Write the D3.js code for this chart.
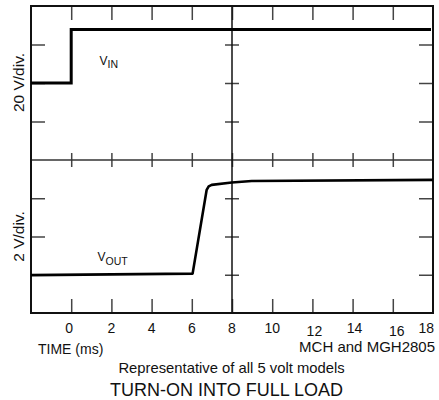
<!DOCTYPE html>
<html><head><meta charset="utf-8">
<script src="https://cdn.jsdelivr.net/npm/d3@7"></script>
<style>
html,body{margin:0;padding:0;background:#fff;}
svg{display:block;font-family:"Liberation Sans",Arial,sans-serif;}
</style></head>
<body><svg id="c" width="439" height="400"></svg>
<script>
// ---- data ----
const timeTickValues = [0, 2, 4, 6, 8, 10, 12, 14, 16, 18];
const timeTickLabels = ["0", "2", "4", "6", "8", "10", "12", "14", "16", "18"];
const vinTime = [-2, 0, 0, 17.9];
const vinVolts = [40, 40, 67.8, 67.8];        // 20 V/div
const voutTime = [-2, 6.04, 6.74, 6.84, 6.99, 7.99, 8.98, 18];
const voutVolts = [1.98, 2.06, 6.44, 6.62, 6.70, 6.82, 6.90, 6.96]; // 2 V/div
const divTicksTop = [20, 40, 60];
const divTicksBot = [2, 4, 6];

const svg = d3.select("#c");
const L = 31, R = 433, T = 6, M = 160, B = 313;
const x = d3.scaleLinear().domain([-2, 18]).range([L, R]);
const yTop = d3.scaleLinear().domain([0, 80]).range([M, T]);
const yBot = d3.scaleLinear().domain([0, 8]).range([B, M]);
const innerX = timeTickValues.filter(v => v < 18);
const tickCol = "#444";

function styleAxis(g){ g.select(".domain").remove(); g.selectAll("text").remove();
  g.selectAll("line").attr("stroke", tickCol).attr("stroke-width", 1.5); }

// x ticks: top edge, middle line (both sides), bottom edge
svg.append("g").attr("transform", `translate(0,${T})`)
  .call(d3.axisTop(x).tickValues(innerX).tickSize(-14)).call(styleAxis);
svg.append("g").attr("transform", `translate(0,${M - 7})`)
  .call(d3.axisBottom(x).tickValues(innerX).tickSize(14)).call(styleAxis);
svg.append("g").attr("transform", `translate(0,${B})`)
  .call(d3.axisBottom(x).tickValues(innerX).tickSize(-14)).call(styleAxis);

// y ticks: left edge, center line, right edge
[[yTop, divTicksTop], [yBot, divTicksBot]].forEach(([ys, tv]) => {
  svg.append("g").attr("transform", `translate(${L},0)`)
    .call(d3.axisLeft(ys).tickValues(tv).tickSize(-14)).call(styleAxis);
  svg.append("g").attr("transform", `translate(${x(8) - 7},0)`)
    .call(d3.axisRight(ys).tickValues(tv).tickSize(14)).call(styleAxis);
  svg.append("g").attr("transform", `translate(${R},0)`)
    .call(d3.axisRight(ys).tickValues(tv).tickSize(-14)).call(styleAxis);
});

// grid center lines
svg.append("line").attr("x1", L).attr("x2", R).attr("y1", M).attr("y2", M)
  .attr("stroke", "#333").attr("stroke-width", 1.5);
svg.append("line").attr("x1", x(8)).attr("x2", x(8)).attr("y1", T).attr("y2", B)
  .attr("stroke", "#111").attr("stroke-width", 1.5);

// frame
svg.append("rect").attr("x", L).attr("y", T).attr("width", R - L).attr("height", B - T)
  .attr("fill", "none").attr("stroke", "#111").attr("stroke-width", 2);

// traces
const vinLine = d3.line().x((d, i) => x(vinTime[i])).y(d => yTop(d));
svg.append("path").attr("d", vinLine(vinVolts)).attr("fill", "none")
  .attr("stroke", "#000").attr("stroke-width", 3).attr("stroke-linejoin", "miter");
const voutLine = d3.line().x((d, i) => x(voutTime[i])).y(d => yBot(d));
svg.append("path").attr("d", voutLine(voutVolts)).attr("fill", "none")
  .attr("stroke", "#000").attr("stroke-width", 2.6).attr("stroke-linejoin", "round");

// trace labels
function subLabel(px, py, main, sub){
  const t = svg.append("text").attr("x", px).attr("y", py).attr("font-size", 12).attr("fill", "#111");
  t.append("tspan").text(main);
  t.append("tspan").attr("dy", 3.5).attr("font-size", 10.5).text(sub);
}
subLabel(99.5, 64.5, "V", "IN");
subLabel(97.5, 261, "V", "OUT");

// y titles
svg.append("text").attr("transform", `translate(24,82.5) rotate(-90)`)
  .attr("text-anchor", "middle").attr("font-size", 15.5).attr("fill", "#111").text("20 V/div.");
svg.append("text").attr("transform", `translate(24,236.5) rotate(-90)`)
  .attr("text-anchor", "middle").attr("font-size", 15.5).attr("fill", "#111").text("2 V/div.");

// x tick labels
svg.selectAll(".xl").data(timeTickValues).enter().append("text")
  .attr("x", (d, i) => d === 18 ? x(d) + 1 : x(d) + (d === 0 ? -2 : d === 16 ? 4 : d === 12 ? 2 : d === 14 ? 2 : 0))
  .attr("y", d => (d === 12 || d === 16) ? 336 : 333)
  .attr("text-anchor", d => d === 18 ? "end" : "middle")
  .attr("font-size", 14).attr("fill", "#111")
  .text((d, i) => timeTickLabels[i]);

svg.append("text").attr("x", 38).attr("y", 354).attr("font-size", 14).attr("fill", "#111").text("TIME (ms)");
svg.append("text").attr("x", 435).attr("y", 352).attr("text-anchor", "end").attr("font-size", 15).attr("fill", "#111").text("MCH and MGH2805");
svg.append("text").attr("x", 231.5).attr("y", 373).attr("text-anchor", "middle").attr("font-size", 14.8).attr("fill", "#111").text("Representative of all 5 volt models");
svg.append("text").attr("x", 226.5).attr("y", 396).attr("text-anchor", "middle").attr("font-size", 18).attr("fill", "#111").text("TURN-ON INTO FULL LOAD");
</script></body></html>
